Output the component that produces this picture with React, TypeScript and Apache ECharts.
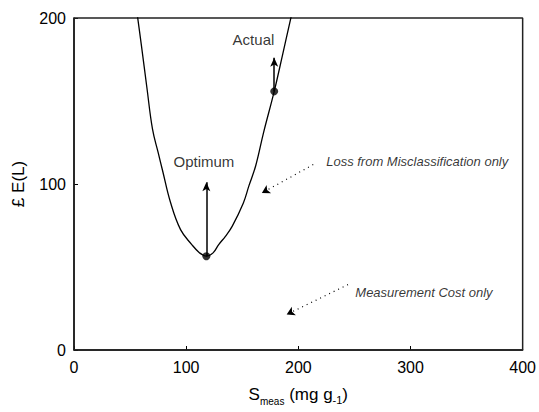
import React, { useEffect, useRef } from "react";
import * as echarts from "echarts";

// Curve of expected loss £E(L) versus S_meas
const curveX = [55, 60, 65, 70, 75, 79, 86, 95, 105, 112, 118, 124, 129, 135, 141, 151, 156, 162, 169, 178.5, 186, 195];
const curveY = [209, 184, 158, 133, 119, 108, 89, 72.5, 63.5, 58.5, 56.5, 58.5, 63.5, 68.5, 74.5, 88.6, 99, 111, 131, 155.8, 178, 205];

// Marked points: Optimum and Actual
const pointNames = ["Optimum", "Actual"];
const pointX = [118, 178.5];
const pointY = [56.5, 155.8];
const arrowTopY = [101, 176];

// Text annotations
const noteTexts = ["Optimum", "Actual"];
const noteX = [115.8, 160];
const noteY = [113.7, 187];
const italicTexts = ["Loss from Misclassification only", "Measurement Cost only"];
const italicX = [306, 312];
const italicY = [113.7, 34.4];
// dotted pointer arrows
const pointerFrom = [[213.3, 111.7], [244.3, 39.4]];
const pointerTo = [[167.5, 94.6], [189.6, 21.4]];

const xTicks = [0, 100, 200, 300, 400];
const yTicks = [0, 100, 200];

export default function App() {
  const ref = useRef<HTMLDivElement>(null);
  useEffect(() => {
    if (!ref.current) return;
    const chart = echarts.init(ref.current, undefined, { renderer: "svg" });
    const font = "'Liberation Sans', Arial, sans-serif";
    const ink = "#000";
    const x0 = xTicks[0];
    const x1 = xTicks[xTicks.length - 1];
    const y0 = yTicks[0];
    const y1 = yTicks[yTicks.length - 1];
    chart.setOption({
      animation: false,
      grid: { left: 74, right: 13, top: 18, bottom: 62 },
      xAxis: {
        type: "value",
        min: x0,
        max: x1,
        interval: 100,
        axisLine: { show: true, onZero: false, lineStyle: { color: ink, width: 1.5 } },
        axisTick: { show: true, inside: true, length: 4, lineStyle: { color: ink, width: 1 } },
        splitLine: { show: false },
        axisLabel: { color: ink, fontSize: 16, fontFamily: font, margin: 9 },
        name: "{s|S}{sub|meas}{s| (mg g}{sub2|-1}{s|)}",
        nameLocation: "middle",
        nameGap: 36,
        nameTextStyle: {
          color: ink,
          fontFamily: font,
          rich: {
            s: { fontSize: 17, fontFamily: font, color: ink, lineHeight: 20, verticalAlign: "top" },
            sub: { fontSize: 10, fontFamily: font, color: ink, lineHeight: 20, verticalAlign: "top", padding: [10, 0, 0, 0] },
            sub2: { fontSize: 11, fontFamily: font, color: ink, lineHeight: 20, verticalAlign: "top", padding: [8, 0, 0, 0] },
          },
        },
      },
      yAxis: {
        type: "value",
        min: y0,
        max: y1,
        interval: 100,
        axisLine: { show: true, onZero: false, lineStyle: { color: ink, width: 1.5 } },
        axisTick: { show: true, inside: true, length: 4, lineStyle: { color: ink, width: 1 } },
        splitLine: { show: false },
        axisLabel: { color: ink, fontSize: 16, fontFamily: font, margin: 8 },
        name: "£ E(L)",
        nameLocation: "middle",
        nameGap: 47,
        nameRotate: 90,
        nameTextStyle: { color: ink, fontSize: 17, fontFamily: font },
      },
      series: [
        {
          // plot frame
          type: "line",
          data: [[x0, y0], [x1, y0], [x1, y1], [x0, y1], [x0, y0]],
          showSymbol: false,
          clip: false,
          silent: true,
          lineStyle: { color: "#222", width: 1.5 },
          z: 1,
        },
        {
          type: "line",
          data: curveX.map((x, i) => [x, curveY[i]]),
          smooth: 0.4,
          showSymbol: false,
          clip: true,
          lineStyle: { color: ink, width: 1.3 },
          z: 2,
        },
        {
          type: "scatter",
          data: pointX.map((x, i) => ({ name: pointNames[i], value: [x, pointY[i]] })),
          symbolSize: 8,
          itemStyle: { color: ink },
          z: 5,
          markLine: {
            silent: true,
            symbol: ["none", "arrow"],
            symbolSize: [6, 9],
            label: { show: false },
            lineStyle: { color: ink, width: 1.5, type: "solid" },
            data: pointX.map((x, i) => [
              { coord: [x, pointY[i]] },
              { coord: [x, arrowTopY[i]] },
            ]),
          },
        },
        {
          type: "scatter",
          data: noteX.map((x, i) => ({ name: noteTexts[i], value: [x, noteY[i]] })),
          symbolSize: 0,
          silent: true,
          label: {
            show: true,
            position: "inside",
            formatter: (p: any) => p.name,
            color: ink,
            fontSize: 15,
            fontFamily: font,
          },
        },
        {
          type: "scatter",
          data: italicX.map((x, i) => ({ name: italicTexts[i], value: [x, italicY[i]] })),
          symbolSize: 0,
          silent: true,
          label: {
            show: true,
            position: "inside",
            formatter: (p: any) => p.name,
            color: ink,
            fontSize: 13,
            fontStyle: "italic",
            fontFamily: font,
          },
          markLine: {
            silent: true,
            symbol: ["none", "arrow"],
            symbolSize: [7, 8],
            label: { show: false },
            lineStyle: { color: ink, width: 1.2, type: [1, 4], curveness: 0.25 },
            data: pointerFrom.map((f, i) => [
              { coord: f },
              { coord: pointerTo[i] },
            ]),
          },
        },
      ],
    });
    return () => chart.dispose();
  }, []);
  return (
    <div
      ref={ref}
      style={{ position: "fixed", left: 0, top: 0, width: 539, height: 412, background: "#fff" }}
    />
  );
}
